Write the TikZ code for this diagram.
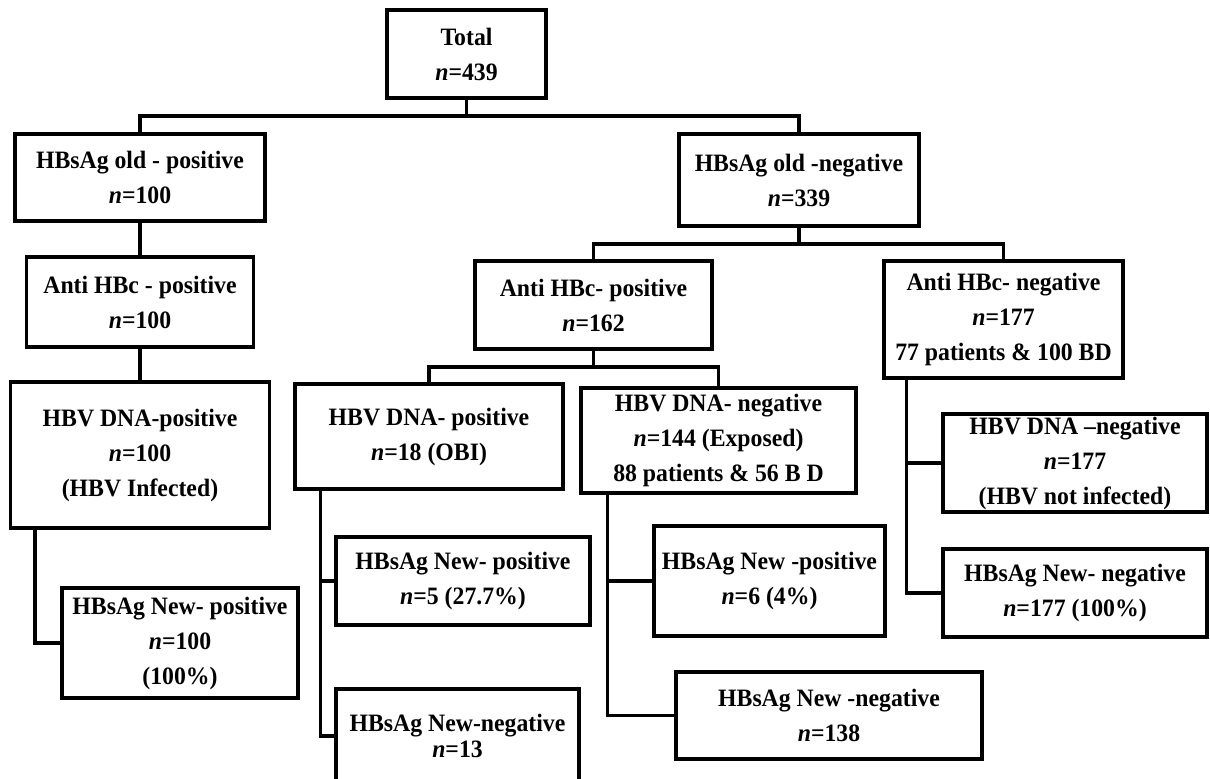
\documentclass[tikz,border=0pt]{standalone}
\usepackage{fontspec}
\setmainfont{Liberation Serif}[FakeStretch=0.95]
\begin{document}
\begin{tikzpicture}[x=1pt,y=-1pt,
  box/.style={draw, line width=3.2pt, inner sep=0pt, align=center,
    font=\fontsize{25}{35}\selectfont\bfseries},
  conn/.style={line width=3.2pt}]
\useasboundingbox (0,0) rectangle (1210,779);
\newcommand{\nn}{\textit{n}}
% boxes
\node[box, minimum width=159, minimum height=88] (total) at (466.5,54) {Total\\\nn=439};
\node[box, minimum width=250, minimum height=87] (oldpos) at (140,177.5) {HBsAg old - positive\\\nn=100};
\node[box, minimum width=240, minimum height=92] (oldneg) at (799,180) {HBsAg old -negative\\\nn=339};
\node[box, minimum width=227, minimum height=90] (antipos) at (140,302) {Anti HBc - positive\\\nn=100};
\node[box, minimum width=237, minimum height=88] (antipos2) at (593.5,305) {Anti HBc- positive\\\nn=162};
\node[box, minimum width=239, minimum height=117] (antineg) at (1003.5,319.5) {Anti HBc- negative\\\nn=177\\77 patients \& 100 BD};
\node[box, minimum width=259, minimum height=146] (dnapos) at (140,455) {HBV DNA-positive\\\nn=100\\(HBV Infected)};
\node[box, minimum width=268, minimum height=105] (dnapos2) at (429,436.5) {HBV DNA- positive\\\nn=18 (OBI)};
\node[box, minimum width=275, minimum height=105] (dnaneg) at (718.5,440.5) {HBV DNA- negative\\\nn=144 (Exposed)\\88 patients \& 56 B D};
\node[box, minimum width=264, minimum height=98] (dnaneg2) at (1075,463) {HBV DNA –negative\\\nn=177\\(HBV not infected)};
\node[box, minimum width=236, minimum height=110] (newpos1) at (180,643) {HBsAg New- positive\\\nn=100\\(100\%)};
\node[box, minimum width=254, minimum height=88] (newpos2) at (463,581) {HBsAg New- positive\\\nn=5 (27.7\%)};
\node[box, minimum width=243, minimum height=94, font=\fontsize{25}{26}\selectfont\bfseries] (newneg2) at (457.5,736) {HBsAg New-negative\\\nn=13};
\node[box, minimum width=231, minimum height=110] (newpos3) at (769.5,581) {HBsAg New -positive\\\nn=6 (4\%)};
\node[box, minimum width=306, minimum height=87] (newneg3) at (829,715.5) {HBsAg New -negative\\\nn=138};
\node[box, minimum width=264, minimum height=88] (newneg1) at (1075,593) {HBsAg New- negative\\\nn=177 (100\%)};
% bus coordinates
\coordinate (bus1) at (0,116);
\coordinate (bus2) at (0,244);
\coordinate (bus3) at (0,367);
% connectors
\draw[conn] (total.south) -- (total.south |- bus1);
\draw[conn] (oldpos.north) -- (oldpos.north |- bus1) -- (oldneg.north |- bus1) -- (oldneg.north);
\draw[conn] (oldpos.south) -- (antipos.north);
\draw[conn] (antipos.south) -- (dnapos.north);
\draw[conn] (oldneg.south) -- (oldneg.south |- bus2);
\draw[conn] (antipos2.north) -- (antipos2.north |- bus2) -- (antineg.north |- bus2) -- (antineg.north);
\draw[conn] (antipos2.south) -- (antipos2.south |- bus3);
\draw[conn] (dnapos2.north) -- (dnapos2.north |- bus3) -- (dnaneg.north |- bus3) -- (dnaneg.north);
% side branches
\coordinate (s1) at ([xshift=26pt]dnapos.south west);
\draw[conn] (s1) -- (s1 |- newpos1.west) -- (newpos1.west);
\coordinate (s2) at ([xshift=27pt]dnapos2.south west);
\draw[conn] (s2) -- (s2 |- newneg2.west) -- (newneg2.west);
\draw[conn] (s2 |- newpos2.west) -- (newpos2.west);
\coordinate (s3) at ([xshift=28pt]dnaneg.south west);
\draw[conn] (s3) -- (s3 |- newneg3.west) -- (newneg3.west);
\draw[conn] (s3 |- newpos3.west) -- (newpos3.west);
\coordinate (s4) at ([xshift=24pt]antineg.south west);
\draw[conn] (s4) -- (s4 |- newneg1.west) -- (newneg1.west);
\draw[conn] (s4 |- dnaneg2.west) -- (dnaneg2.west);
\end{tikzpicture}
\end{document}
